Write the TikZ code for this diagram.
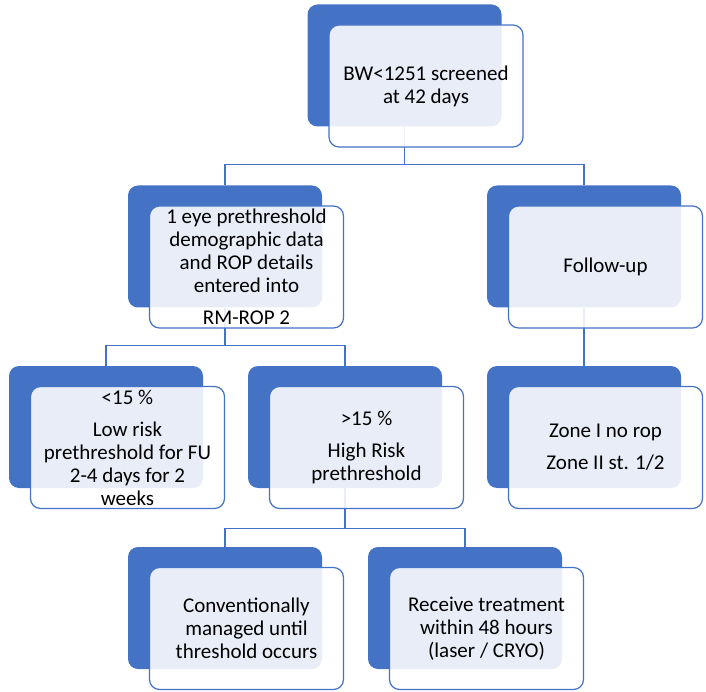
\documentclass[tikz,border=0pt]{standalone}
\usepackage{fontspec}
\setmainfont{Carlito}
\definecolor{accent}{HTML}{4472C4}
\begin{document}
\begin{tikzpicture}[x=1pt,y=-1pt,
  backbox/.style={rectangle, rounded corners=10pt, minimum width=194pt, minimum height=122pt, inner sep=0pt, fill=accent, draw=none},
  frontbox/.style={rectangle, rounded corners=10pt, minimum width=194pt, minimum height=122pt, inner sep=0pt, draw=accent, line width=1.2pt, fill=white, fill opacity=0.88, text opacity=1, align=center, font=\fontsize{21}{23}\selectfont, text=black},
  link/.style={draw=accent, line width=1.2pt}]
\useasboundingbox (0,0) rectangle (706,692);
% back boxes
\node[backbox] (b0) at (404.5,65.5) {};
\node[backbox] (b1) at (225,246.5) {};
\node[backbox] (b2) at (584,246.5) {};
\node[backbox] (b3) at (106,427) {};
\node[backbox] (b4) at (345,427) {};
\node[backbox] (b5) at (584,427) {};
\node[backbox] (b6) at (225,608) {};
\node[backbox] (b7) at (465,608) {};
% connectors
\draw[link] (b0.south) -- ++(0,38) -| (b1.north);
\draw[link] (b0.south) -- ++(0,38) -| (b2.north);
\draw[link] (b1.south) -- ++(0,37.5) -| (b3.north);
\draw[link] (b1.south) -- ++(0,37.5) -| (b4.north);
\draw[link] (b2.south) -- (b5.north);
\draw[link] (b4.south) -- ++(0,40) -| (b6.north);
\draw[link] (b4.south) -- ++(0,40) -| (b7.north);
% front boxes
\node[frontbox] (f0) at (426,86) {BW<1251 screened\\at 42 days};
\node[frontbox] (f1) at (246.5,267) {1 eye prethreshold\\demographic data\\and ROP details\\entered into\\[9pt]RM-ROP 2};
\node[frontbox] (f2) at (605.5,267) {Follow-up};
\node[frontbox] (f3) at (127.5,447.5) {<15 \%\\[9pt]Low risk\\prethreshold for FU\\2-4 days for 2\\weeks};
\node[frontbox] (f4) at (366.5,447.5) {>15 \%\\[9pt]High Risk\\prethreshold};
\node[frontbox] (f5) at (605.5,447.5) {Zone I no rop\\[9pt]Zone II st. 1/2};
\node[frontbox] (f6) at (246.5,628.5) {Conventionally\\managed until\\threshold occurs};
\node[frontbox] (f7) at (486.5,628.5) {Receive treatment\\within 48 hours\\(laser / CRYO)};
\end{tikzpicture}
\end{document}
